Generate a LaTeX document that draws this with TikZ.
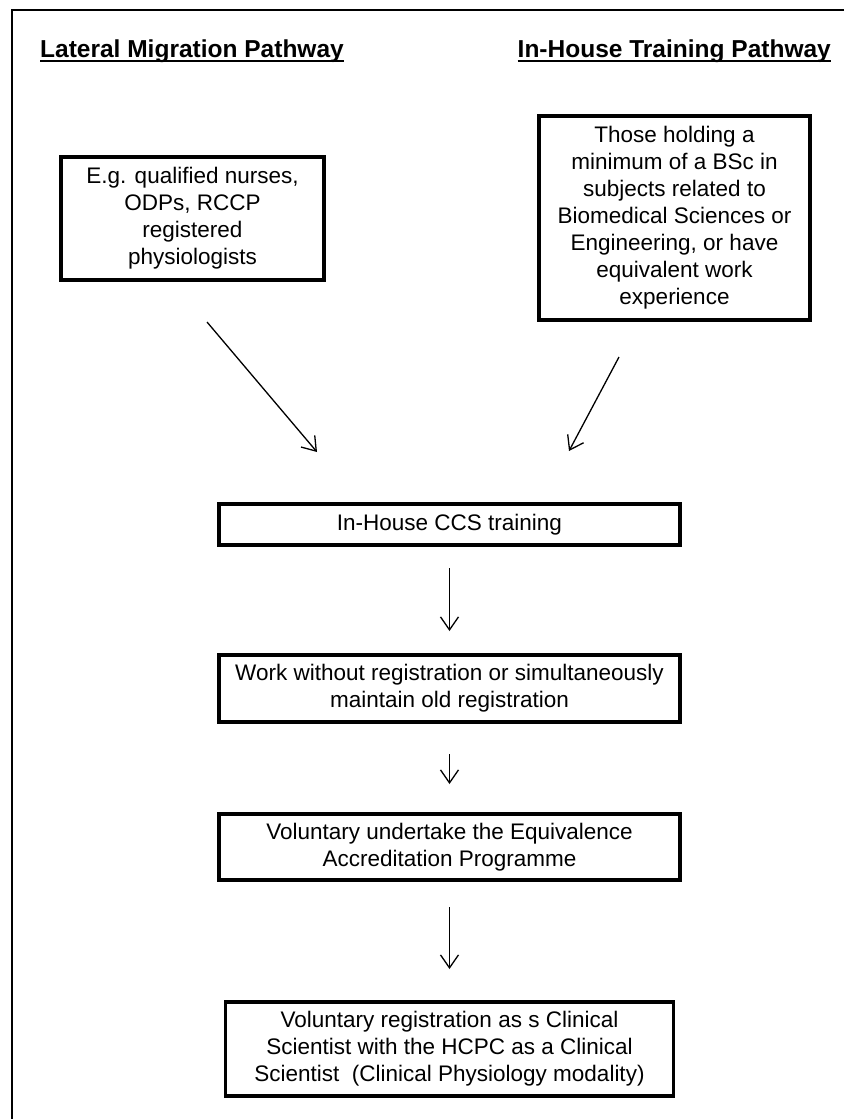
\documentclass[tikz,border=0pt]{standalone}
\usepackage{fontspec}
\setmainfont{Liberation Sans}
\usepackage{tikz}
\usetikzlibrary{positioning,arrows.meta}

\begin{document}
\begin{tikzpicture}[x=1pt, y=-1pt,
  box/.style={draw, line width=3.8pt, outer sep=0pt, inner sep=0pt, align=center, font=\fontsize{22.5}{27}\selectfont},
  flow/.style={box, minimum width=461pt},
  head/.style={inner sep=0pt, font=\fontsize{24.5}{29}\selectfont\bfseries},
  arr/.style={-{Straight Barb[length=13pt,width=18pt]}, line width=1.3pt}]
\useasboundingbox[fill=white] (0,0) rectangle (844,1119);
\draw[line width=2.4pt] (844,10) -- (12,10) -- (12,1119);
\node[head, anchor=base west] (latl) at (40,57) {Lateral Migration Pathway};
\node[head, anchor=base east] (inhl) at (831,57) {In-House Training Pathway};
\draw[line width=2pt] ([yshift=-3.5pt]latl.base west) -- ([yshift=-3.5pt]latl.base east);
\draw[line width=2pt] ([yshift=-3.5pt]inhl.base west) -- ([yshift=-3.5pt]inhl.base east);
\node[box, minimum width=263pt, minimum height=123pt] (lat) at (192.5,218.5) {E.g. qualified nurses,\\ODPs, RCCP\\registered\\physiologists};
\node[box, minimum width=271pt, minimum height=204pt] (inh) at (674.5,218) {Those holding a\\minimum of a BSc in\\subjects related to\\Biomedical Sciences or\\Engineering, or have\\equivalent work\\experience};
\node[flow, minimum height=41pt] (ccs) at (449.5,524.5) {In-House CCS training};
\node[flow, minimum height=67pt, below=110pt of ccs] (work) {Work without registration or simultaneously\\maintain old registration};
\node[flow, minimum height=66pt, below=92pt of work] (eap) {Voluntary undertake the Equivalence\\Accreditation Programme};
\node[box, minimum width=448pt, minimum height=94pt, below=122pt of eap] (reg) {Voluntary registration as s Clinical\\Scientist with the HCPC as a Clinical\\Scientist~ (Clinical Physiology modality)};
\coordinate (l1) at (207,322);
\coordinate (l2) at (317,452);
\coordinate (r1) at (619,357);
\coordinate (r2) at (569,451);
\draw[arr] (l1) -- (l2);
\draw[arr] (r1) -- (r2);
\draw[arr, shorten <=23pt, shorten >=24pt] (ccs) -- (work);
\draw[arr, shorten <=32pt, shorten >=30pt] (work) -- (eap);
\draw[arr, shorten <=27pt, shorten >=33pt] (eap) -- (reg);
\end{tikzpicture}
\end{document}
